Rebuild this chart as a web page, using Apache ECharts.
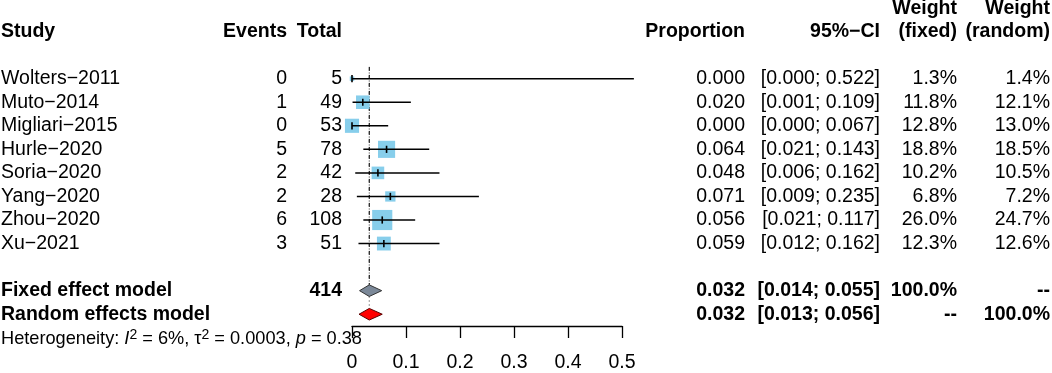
<!DOCTYPE html>
<html><head><meta charset="utf-8">
<script src="https://cdn.jsdelivr.net/npm/echarts@6/dist/echarts.min.js"></script>
<style>html,body{margin:0;padding:0;background:#fff}#c{width:1052px;height:373px}</style>
</head><body><div id="c"></div>
<script>
// ---------- data ----------
const studies = ['Wolters\u22122011','Muto\u22122014','Migliari\u22122015','Hurle\u22122020','Soria\u22122020','Yang\u22122020','Zhou\u22122020','Xu\u22122021'];
const events = [0, 1, 0, 5, 2, 2, 6, 3];
const totals = [5, 49, 53, 78, 42, 28, 108, 51];
const proportions = [0.000, 0.020, 0.000, 0.064, 0.048, 0.071, 0.056, 0.059];
const ciLower = [0.000, 0.001, 0.000, 0.021, 0.006, 0.009, 0.021, 0.012];
const ciUpper = [0.522, 0.109, 0.067, 0.143, 0.162, 0.235, 0.117, 0.162];
const weightFixed = [1.3, 11.8, 12.8, 18.8, 10.2, 6.8, 26.0, 12.3];
const weightRandom = [1.4, 12.1, 13.0, 18.5, 10.5, 7.2, 24.7, 12.6];
const modelNames = ['Fixed effect model', 'Random effects model'];
const modelEstimates = [0.032, 0.032];
const modelLower = [0.014, 0.013];
const modelUpper = [0.055, 0.056];
const totalN = 414;
const xTicks = [0, 0.1, 0.2, 0.3, 0.4, 0.5];
const hetI2 = '6%', hetTau2 = '0.0003', hetP = '0.38';

// ---------- layout ----------
const FONT = '"Liberation Sans", Arial, Helvetica, sans-serif';
const FS = 19.5;
const col = {study: 1, events: 287, total: 342, prop: 745, ci: 880, wf: 957, wr: 1050};
const fixedRow = studies.length + 1, randomRow = studies.length + 2;
const SQ = 3.95;

const f3 = v => v.toFixed(3);
const ciText = (l, u) => '[' + f3(l) + '; ' + f3(u) + ']';
const pct = v => v.toFixed(1) + '%';

// table rows: r = row index, dy = pixel shift, cells = [text, x, align]
const tableRows = [];
tableRows.push({r: -2, dy: -22.8, bold: true, cells: [['Weight', col.wf, 'right'], ['Weight', col.wr, 'right']]});
tableRows.push({r: -2, dy: 0, bold: true, cells: [
  ['Study', col.study, 'left'], ['Events', col.events, 'right'], ['Total', col.total, 'right'],
  ['Proportion', col.prop, 'right'], ['95%\u2212CI', col.ci, 'right'],
  ['(fixed)', col.wf, 'right'], ['(random)', col.wr, 'right']]});
studies.forEach((s, i) => tableRows.push({r: i, dy: 0, bold: false, cells: [
  [s, col.study, 'left'], [String(events[i]), col.events, 'right'], [String(totals[i]), col.total, 'right'],
  [f3(proportions[i]), col.prop, 'right'], [ciText(ciLower[i], ciUpper[i]), col.ci, 'right'],
  [pct(weightFixed[i]), col.wf, 'right'], [pct(weightRandom[i]), col.wr, 'right']]}));
tableRows.push({r: fixedRow, dy: 0, bold: true, cells: [
  [modelNames[0], col.study, 'left'], [String(totalN), col.total, 'right'],
  [f3(modelEstimates[0]), col.prop, 'right'], [ciText(modelLower[0], modelUpper[0]), col.ci, 'right'],
  ['100.0%', col.wf, 'right'], ['--', col.wr, 'right']]});
tableRows.push({r: randomRow, dy: 0, bold: true, cells: [
  [modelNames[1], col.study, 'left'],
  [f3(modelEstimates[1]), col.prop, 'right'], [ciText(modelLower[1], modelUpper[1]), col.ci, 'right'],
  ['--', col.wf, 'right'], ['100.0%', col.wr, 'right']]});

const studyData = studies.map((s, i) => [proportions[i], ciLower[i], ciUpper[i], i, weightFixed[i]]);
const diamondData = [
  [modelEstimates[0], modelLower[0], modelUpper[0], fixedRow, 0],
  [modelEstimates[1], modelLower[1], modelUpper[1], randomRow, 1]
];
const DH = 5.8;

const chart = echarts.init(document.getElementById('c'), null, {renderer: 'canvas'});
chart.setOption({
  animation: false,
  backgroundColor: '#fff',
  grid: {left: 352, width: 270, top: 66.9, height: 262.4},
  xAxis: {
    type: 'value', position: 'bottom', min: xTicks[0], max: xTicks[xTicks.length - 1], interval: 0.1,
    axisLine: {show: true, onZero: false, lineStyle: {color: '#000', width: 1.3}},
    axisTick: {show: true, inside: false, length: 12, lineStyle: {color: '#000', width: 1.3}},
    splitLine: {show: false},
    axisLabel: {color: '#000', fontSize: FS, fontFamily: FONT, margin: 27,
      formatter: v => String(Math.round(v * 10) / 10)}
  },
  yAxis: {type: 'value', min: -0.5, max: randomRow + 0.5, inverse: true, show: false},
  series: [
    { // reference lines at pooled estimate
      type: 'custom', coordinateSystem: 'cartesian2d', z: 1,
      data: [[modelEstimates[0], -0.5, fixedRow, randomRow]],
      renderItem: (params, api) => {
        const top = api.coord([api.value(0), api.value(1)]);
        const fx = api.coord([api.value(0), api.value(2)]);
        const rx = api.coord([api.value(0), api.value(3)]);
        return {type: 'group', children: [
          {type: 'line', shape: {x1: top[0], y1: top[1], x2: fx[0], y2: fx[1] - DH}, style: {stroke: '#000', lineWidth: 1.1, lineDash: [4, 4]}},
          {type: 'line', shape: {x1: top[0], y1: top[1] + 5.5, x2: rx[0], y2: rx[1] - DH}, style: {stroke: '#444', lineWidth: 1.1, lineDash: [1, 3]}}
        ]};
      }
    },
    { // study squares + CIs
      type: 'custom', coordinateSystem: 'cartesian2d', z: 2,
      encode: {x: [0, 1, 2], y: 3},
      data: studyData,
      renderItem: (params, api) => {
        const r = api.value(3);
        const pe = api.coord([api.value(0), r]);
        const pl = api.coord([api.value(1), r]);
        const ph = api.coord([api.value(2), r]);
        const s = SQ * Math.sqrt(api.value(4));
        return {type: 'group', children: [
          {type: 'rect', shape: {x: pe[0] - s / 2, y: pe[1] - s / 2, width: s, height: s}, style: {fill: '#87ceeb'}},
          {type: 'line', shape: {x1: pl[0], y1: pl[1], x2: ph[0], y2: ph[1]}, style: {stroke: '#000', lineWidth: 1.5}},
          {type: 'line', shape: {x1: pe[0], y1: pe[1] - 3.6, x2: pe[0], y2: pe[1] + 3.6}, style: {stroke: '#000', lineWidth: 1.6}}
        ]};
      }
    },
    { // summary diamonds
      type: 'custom', coordinateSystem: 'cartesian2d', z: 3,
      encode: {x: [0, 1, 2], y: 3},
      data: diamondData,
      renderItem: (params, api) => {
        const r = api.value(3);
        const pe = api.coord([api.value(0), r]);
        const pl = api.coord([api.value(1), r]);
        const ph = api.coord([api.value(2), r]);
        const isRandom = api.value(4) === 1;
        return {type: 'polygon',
          shape: {points: [[pl[0], pe[1]], [pe[0], pe[1] - DH], [ph[0], pe[1]], [pe[0], pe[1] + DH]]},
          style: {fill: isRandom ? '#ff0000' : '#7b8898', stroke: isRandom ? '#5a0000' : '#333', lineWidth: 1}};
      }
    },
    { // table text
      type: 'custom', coordinateSystem: 'cartesian2d', z: 4,
      encode: {x: 0, y: 1},
      data: tableRows.map((t, i) => [0, t.r, i]),
      renderItem: (params, api) => {
        const t = tableRows[api.value(2)];
        const y = api.coord([0, api.value(1)])[1] + t.dy;
        return {type: 'group', children: t.cells.map(c => ({
          type: 'text', x: c[1], y: y,
          style: {text: c[0], fill: '#000', fontSize: FS, fontFamily: FONT,
            fontWeight: t.bold ? 'bold' : 'normal', align: c[2], verticalAlign: 'middle'}
        }))};
      }
    },
    { // heterogeneity line
      type: 'custom', coordinateSystem: 'cartesian2d', z: 4,
      data: [[0, randomRow + 1.05]],
      renderItem: (params, api) => {
        const y = api.coord([0, api.value(1)])[1];
        return {type: 'text', x: 1, y: y, style: {
          text: '{n|Heterogeneity: }{i|I}{s|2}{n| = ' + hetI2 + ', \u03c4}{s|2}{n| = ' + hetTau2 + ', }{i|p}{n| = ' + hetP + '}',
          align: 'left', verticalAlign: 'middle', fill: '#000',
          rich: {
            n: {fontSize: 18.2, fontFamily: FONT, lineHeight: 22, fill: '#000'},
            i: {fontSize: 18.2, fontFamily: FONT, fontStyle: 'italic', lineHeight: 22, fill: '#000'},
            s: {fontSize: 14, fontFamily: FONT, lineHeight: 14, verticalAlign: 'top', fill: '#000'}
          }
        }};
      }
    }
  ]
});
</script>
</body></html>
